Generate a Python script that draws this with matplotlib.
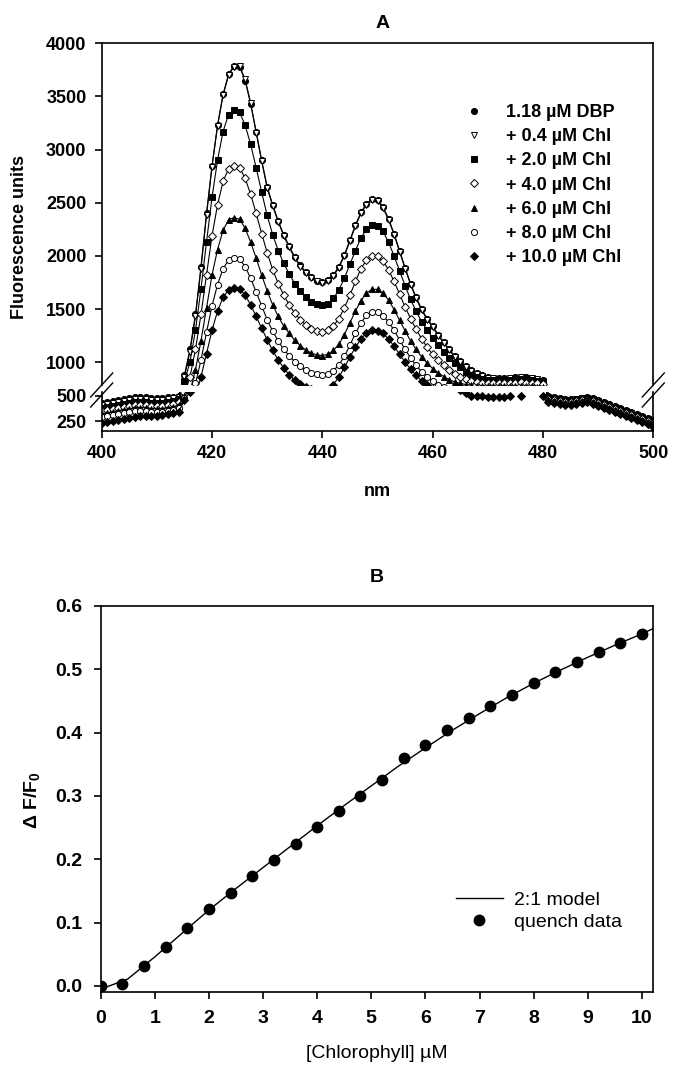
import numpy as np
import matplotlib
matplotlib.use("Agg")
import matplotlib.pyplot as plt
from matplotlib.lines import Line2D

plt.rcParams['font.family'] = ['Liberation Sans', 'DejaVu Sans']
plt.rcParams['mathtext.fontset'] = 'custom'
plt.rcParams['mathtext.rm'] = 'Liberation Sans'
plt.rcParams['mathtext.bf'] = 'Liberation Sans:bold'

NARROW = ['Liberation Sans Narrow', 'Liberation Sans', 'DejaVu Sans']

# ---- panel A data: emission spectra, 400-500 nm, 1 nm steps ----
wavelength = np.arange(400, 501)

# ranges per row: 400-414 | 415-424 | 425-434 | 435-444 | 445-454 | 455-464 | 465-474 | 475-480 | 481-500
dbp = [430, 440, 450, 460, 470, 480, 490, 495, 490, 485, 480, 485, 490, 495, 500,
       880, 1120, 1450, 1900, 2400, 2850, 3230, 3520, 3710, 3790,
       3780, 3650, 3430, 3170, 2900, 2650, 2480, 2330, 2200, 2090,
       1990, 1910, 1850, 1800, 1765, 1750, 1770, 1820, 1900, 2010,
       2150, 2290, 2410, 2490, 2535, 2530, 2460, 2350, 2210, 2050,
       1890, 1740, 1610, 1500, 1410, 1340, 1260, 1190, 1120, 1060,
       1010, 965, 930, 900, 880, 865, 855, 850, 850, 855,
       860, 862, 860, 855, 845, 830,
       500, 490, 480, 470, 470, 475, 485, 490, 480, 460,
       440, 420, 400, 380, 360, 340, 320, 300, 280, 260]

chl_04 = [410, 420, 430, 440, 450, 460, 470, 475, 470, 465, 460, 465, 470, 480, 490,
          860, 1100, 1430, 1880, 2380, 2840, 3220, 3510, 3700, 3780,
          3790, 3660, 3440, 3160, 2890, 2640, 2470, 2320, 2190, 2080,
          1980, 1900, 1840, 1790, 1760, 1745, 1765, 1810, 1890, 2000,
          2140, 2280, 2400, 2480, 2525, 2520, 2450, 2340, 2200, 2040,
          1880, 1730, 1600, 1490, 1400, 1330, 1250, 1180, 1110, 1050,
          1000, 955, 920, 890, 870, 855, 848, 845, 845, 850,
          855, 858, 855, 850, 840, 825,
          490, 480, 470, 460, 460, 470, 480, 485, 470, 450,
          430, 410, 390, 370, 350, 330, 310, 290, 270, 250]

chl_20 = [380, 390, 400, 410, 420, 430, 440, 445, 440, 435, 430, 435, 440, 450, 470,
          820, 1000, 1300, 1690, 2130, 2550, 2900, 3170, 3330, 3370,
          3350, 3230, 3050, 2830, 2600, 2380, 2200, 2050, 1930, 1830,
          1740, 1670, 1610, 1570, 1545, 1535, 1550, 1600, 1680, 1790,
          1920, 2050, 2170, 2250, 2290, 2285, 2230, 2130, 2000, 1860,
          1720, 1590, 1480, 1380, 1300, 1230, 1160, 1100, 1040, 990,
          950, 910, 880, 860, 845, 835, 830, 828, 830, 835,
          838, 840, 838, 832, 822, 810,
          480, 470, 460, 450, 450, 460, 470, 475, 460, 440,
          420, 400, 380, 360, 340, 320, 300, 280, 260, 240]

chl_40 = [350, 360, 370, 380, 390, 400, 410, 415, 410, 405, 400, 405, 410, 420, 440,
          700, 860, 1120, 1450, 1820, 2190, 2480, 2700, 2820, 2850,
          2830, 2730, 2580, 2400, 2210, 2030, 1870, 1740, 1630, 1540,
          1460, 1400, 1350, 1315, 1295, 1288, 1300, 1340, 1410, 1510,
          1630, 1760, 1880, 1960, 2000, 1995, 1950, 1870, 1760, 1640,
          1520, 1410, 1310, 1220, 1140, 1075, 1020, 970, 925, 890,
          860, 840, 825, 815, 808, 805, 803, 802, 803, 805,
          808, 810, 808, 805, 800, 795,
          470, 460, 450, 440, 440, 450, 460, 465, 450, 430,
          410, 390, 370, 350, 330, 310, 290, 270, 250, 230]

chl_60 = [320, 330, 340, 350, 360, 370, 380, 385, 380, 375, 370, 375, 380, 390, 410,
          500, 720, 930, 1200, 1510, 1820, 2060, 2240, 2340, 2360,
          2345, 2260, 2130, 1980, 1820, 1670, 1540, 1430, 1340, 1270,
          1205, 1155, 1115, 1085, 1068, 1062, 1075, 1110, 1170, 1260,
          1370, 1480, 1580, 1650, 1685, 1685, 1650, 1585, 1495, 1395,
          1295, 1200, 1120, 1050, 990, 940, 900, 865, 835, 815,
          800, 790, 785, 780, 778, 776, 775, 775, 776, 778,
          780, 780, 778, 775, 770, 765,
          460, 450, 440, 430, 430, 445, 455, 460, 445, 425,
          405, 385, 365, 345, 325, 305, 285, 265, 245, 220]

chl_80 = [290, 300, 310, 320, 330, 340, 350, 355, 350, 345, 340, 345, 350, 360, 380,
          480, 600, 800, 1020, 1280, 1530, 1730, 1880, 1960, 1980,
          1970, 1900, 1790, 1660, 1530, 1400, 1290, 1200, 1120, 1060,
          1005, 960, 925, 900, 885, 880, 890, 920, 975, 1055,
          1160, 1270, 1370, 1440, 1470, 1468, 1435, 1380, 1300, 1210,
          1120, 1040, 970, 910, 860, 820, 790, 765, 745, 730,
          720, 712, 706, 702, 700, 700, 700, 700, 700, 702,
          703, 704, 703, 700, 695, 690,
          450, 440, 430, 420, 420, 435, 445, 450, 435, 415,
          395, 375, 355, 335, 315, 295, 275, 255, 235, 210]

chl_100 = [235, 245, 255, 265, 275, 285, 295, 300, 300, 300, 305, 310, 320, 330, 345,
           460, 540, 680, 860, 1080, 1300, 1480, 1610, 1680, 1700,
           1690, 1630, 1540, 1430, 1320, 1210, 1110, 1020, 945, 880,
           830, 795, 765, 745, 730, 725, 740, 790, 860, 950,
           1050, 1140, 1220, 1275, 1300, 1298, 1270, 1220, 1150, 1075,
           1000, 935, 875, 825, 785, 750, 720, 690, 660, 620,
           560, 530, 500, 498, 496, 495, 494, 494, 495, 496,
           np.nan, 500, np.nan, np.nan, np.nan, 500,
           440, 430, 420, 410, 410, 425, 435, 440, 425, 405,
           385, 365, 345, 325, 305, 285, 265, 245, 220, 195]

spectra = [dbp, chl_04, chl_20, chl_40, chl_60, chl_80, chl_100]
labels_a = ['1.18 µM DBP', '+ 0.4 µM Chl', '+ 2.0 µM Chl', '+ 4.0 µM Chl',
            '+ 6.0 µM Chl', '+ 8.0 µM Chl', '+ 10.0 µM Chl']
markers_a = ['o', 'v', 's', 'D', '^', 'o', 'D']
filled_a = [True, False, True, False, True, False, True]

# ---- panel B data ----
chl_conc = [0.0, 0.4, 0.8, 1.2, 1.6, 2.0, 2.4, 2.8, 3.2, 3.6, 4.0, 4.4, 4.8,
            5.2, 5.6, 6.0, 6.4, 6.8, 7.2, 7.6, 8.0, 8.4, 8.8, 9.2, 9.6, 10.0]
quench = [0.000, 0.003, 0.032, 0.061, 0.091, 0.121, 0.147, 0.173, 0.199, 0.224,
          0.251, 0.276, 0.300, 0.325, 0.360, 0.380, 0.404, 0.423, 0.442, 0.460,
          0.478, 0.495, 0.511, 0.527, 0.542, 0.556]
model_x = [0.0, 0.5, 1.0, 1.5, 2.0, 2.5, 3.0, 3.5, 4.0, 4.5, 5.0, 5.5, 6.0, 6.5,
           7.0, 7.5, 8.0, 8.5, 9.0, 9.5, 10.0, 10.2]
model_y = [-0.005, 0.011, 0.046, 0.083, 0.120, 0.154, 0.187, 0.220, 0.253, 0.285,
           0.316, 0.347, 0.376, 0.404, 0.430, 0.455, 0.478, 0.499, 0.519, 0.538,
           0.556, 0.564]

W, H = 682, 1076
fig = plt.figure(figsize=(W / 100, H / 100), dpi=100)


def box(x0, y_top, x1, y_bot):
    # pixel box (from top-left) -> figure fraction rect
    return [x0 / W, 1 - y_bot / H, (x1 - x0) / W, (y_bot - y_top) / H]


ax_hi = fig.add_axes(box(101.7, 43.3, 653.3, 384.5))
ax_lo = fig.add_axes(box(101.7, 392.0, 653.3, 431.0))

for ax in (ax_hi, ax_lo):
    for vals, m, filled in zip(spectra, markers_a, filled_a):
        ax.plot(wavelength, vals, color='black', lw=0.8, marker=m, ms=4.4,
                mfc='black' if filled else 'white', mec='black', mew=0.7)
    ax.set_xlim(400, 500)
    for s in ax.spines.values():
        s.set_linewidth(1.2)
    ax.tick_params(direction='out', length=5, width=1.2, labelsize=13, pad=6)

ax_hi.set_ylim(790, 4000)
ax_hi.set_yticks([1000, 1500, 2000, 2500, 3000, 3500, 4000])
ax_hi.spines['bottom'].set_visible(False)
ax_hi.tick_params(axis='x', bottom=False, labelbottom=False)

ax_lo.set_ylim(150, 540)
ax_lo.set_yticks([250, 500])
ax_lo.spines['top'].set_visible(False)
ax_lo.set_xticks([400, 420, 440, 460, 480, 500])
ax_lo.tick_params(axis='x', pad=5)

for a in (ax_hi, ax_lo):
    for lab in a.get_xticklabels() + a.get_yticklabels():
        lab.set_fontweight('bold')

# axis break marks
for xb in (101.7, 653.3):
    for dy in (0, 10):
        fig.add_artist(Line2D([(xb - 11) / W, (xb + 11) / W],
                              [1 - (397 + dy) / H, 1 - (373 + dy) / H],
                              color='black', lw=1.0))

handles_a = [Line2D([], [], ls='none', marker=m, ms=4.4, color='black',
                    mfc='black' if f else 'white', mec='black', mew=0.7)
             for m, f in zip(markers_a, filled_a)]
ax_hi.legend(handles_a, labels_a, loc='upper left',
             bbox_to_anchor=(465 / W, 1 - 104 / H), bbox_transform=fig.transFigure,
             frameon=False, borderpad=0, borderaxespad=0, handlelength=1.0,
             handletextpad=1.25, labelspacing=0.4,
             prop={'weight': 'bold', 'size': 13})

fig.text(383 / W, 1 - 23 / H, 'A', ha='center', va='center', fontsize=14, fontweight='bold')
fig.text(377.5 / W, 1 - 492 / H, 'nm', ha='center', va='center', fontsize=13, fontweight='bold')
fig.text(20 / W, 1 - 237 / H, 'Fluorescence units', ha='center', va='center',
         rotation=90, fontsize=13, fontweight='bold')

# ---- panel B ----
axb = fig.add_axes(box(100.7, 606.0, 652.7, 992.0))
axb.plot(model_x, model_y, color='black', lw=1.0, label='2:1 model')
axb.plot(chl_conc, quench, ls='none', marker='o', ms=7.5, color='black', label='quench data')
axb.set_xlim(0, 10.2)
axb.set_ylim(-0.0095, 0.6)
axb.set_xticks(range(0, 11))
axb.set_yticks([0.0, 0.1, 0.2, 0.3, 0.4, 0.5, 0.6])
axb.set_yticklabels(['0.0', '0.1', '0.2', '0.3', '0.4', '0.5', '0.6'])
for s in axb.spines.values():
    s.set_linewidth(1.2)
axb.tick_params(direction='out', length=5, width=1.2, labelsize=14)
axb.tick_params(axis='x', pad=8)
axb.tick_params(axis='y', pad=8)
for lab in axb.get_xticklabels() + axb.get_yticklabels():
    lab.set_fontfamily(NARROW)
    lab.set_fontweight('bold')

axb.legend(loc='upper left', bbox_to_anchor=(456 / W, 1 - 891 / H),
           bbox_transform=fig.transFigure, frameon=False, borderpad=0,
           borderaxespad=0, handlelength=2.4, handletextpad=0.6, labelspacing=0.25,
           prop={'family': NARROW, 'size': 14})

fig.text(376.7 / W, 1 - 578 / H, 'B', ha='center', va='center', fontsize=14, fontweight='bold')
fig.text(376.7 / W, 1 - 1054 / H, '[Chlorophyll] µM', ha='center', va='center',
         fontsize=14, family=NARROW)
fig.text(33 / W, 1 - 800 / H, r'Δ F/F$_\mathbf{0}$', ha='center', va='center',
         rotation=90, fontsize=14, fontweight='bold', family=NARROW)

fig.savefig('out.png', dpi=100)
